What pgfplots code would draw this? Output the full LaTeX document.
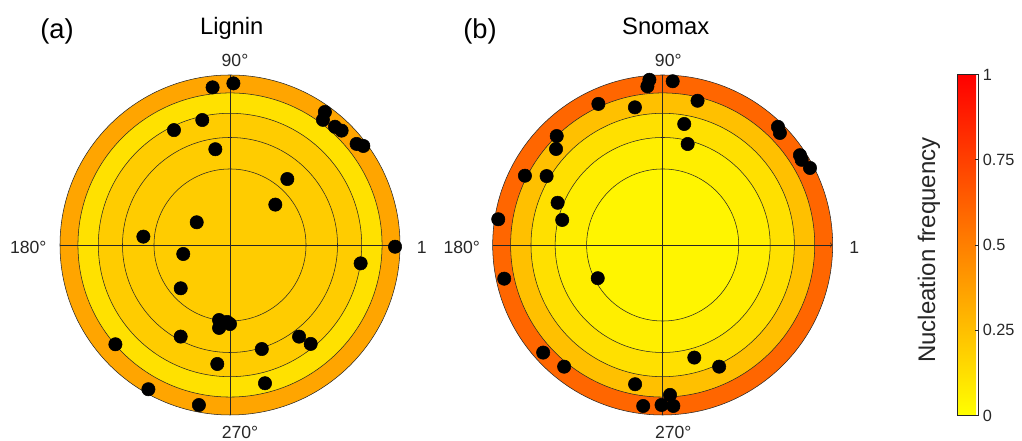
\documentclass[border=0pt]{standalone}
\usepackage{fontspec}
\setmainfont{Liberation Sans}
\usepackage{pgfplots}
\usepackage{pgfplotstable}
\pgfplotsset{compat=1.18}

\definecolor{LA}{HTML}{FFA500}
\definecolor{LB}{HTML}{FFE100}
\definecolor{LC}{HTML}{FFCC00}
\definecolor{RA}{HTML}{FF6600}
\definecolor{RB}{HTML}{FFC000}
\definecolor{RC}{HTML}{FFE000}
\definecolor{RD}{HTML}{FFEE00}
\definecolor{RE}{HTML}{FFF500}
\definecolor{gridc}{HTML}{262626}

\newcommand\fs[1]{\fontsize{#1}{#1}\selectfont}

% angle (deg), radius (fraction of outer circle)
\pgfplotstableread{
t r
96.3 0.933
88.8 0.951
54.5 0.961
53.4 0.917
48.4 0.930
45.7 0.940
38.6 0.953
36.6 0.977
102.5 0.753
116.0 0.752
98.7 0.570
49.0 0.514
41.7 0.357
145.7 0.237
174.5 0.512
359.4 0.971
190.9 0.280
352.0 0.776
221.3 0.386
261.7 0.446
267.8 0.453
262.5 0.492
270.0 0.465
241.7 0.612
307.0 0.675
309.2 0.751
220.9 0.892
287.0 0.640
263.9 0.704
284.2 0.839
240.5 0.975
259.0 0.959
}\lignin

\pgfplotstableread{
t r
94.6 0.975
95.5 0.938
86.5 0.965
114.5 0.912
101.4 0.826
76.4 0.873
79.9 0.723
76.1 0.612
45.7 0.971
43.7 0.954
33.2 0.965
31.5 0.959
27.6 0.978
134.2 0.894
138.0 0.844
153.3 0.907
149.3 0.794
158.1 0.666
166.0 0.609
171.1 0.979
192.0 0.953
207.1 0.429
222.0 0.946
231.0 0.921
285.7 0.688
294.9 0.789
258.8 0.835
272.8 0.883
263.1 0.954
269.6 0.941
273.8 0.949
}\snomax

\pgfplotsset{
  polstyle/.style={scale only axis, width=255pt, height=255pt,
    xmin=-1, xmax=1, ymin=-1, ymax=1, hide axis, clip=false, anchor=center},
  ptstyle/.style={only marks, mark=*, mark size=5pt, black, mark options={fill=black, draw=black}},
}
\tikzset{gl/.style={gridc, line width=0.4pt}}

\begin{document}
\begin{tikzpicture}
\path[use as bounding box] (0,0) rectangle (766.5pt,330.75pt);

% ---------- (a) Lignin ----------
\begin{axis}[polstyle, at={(172.5pt,147pt)}]
  \fill[LA] (axis cs:0,0) circle[radius=127.5pt];
  \fill[LB] (axis cs:0,0) circle[radius=114.04pt];
  \fill[LC] (axis cs:0,0) circle[radius=98.76pt];
  \draw[gl] (axis cs:0,0) circle[radius=127.5pt];
  \draw[gl] (axis cs:0,0) circle[radius=114.04pt];
  \draw[gl] (axis cs:0,0) circle[radius=98.76pt];
  \draw[gl] (axis cs:0,0) circle[radius=80.64pt];
  \draw[gl] (axis cs:0,0) circle[radius=57.02pt];
  \draw[gridc, line width=0.45pt, ->] (axis cs:-1,0) -- (axis cs:1,0);
  \draw[gridc, line width=0.45pt] (axis cs:0,-1) -- (axis cs:0,1);
  \addplot[ptstyle] table[x expr={\thisrow{r}*cos(\thisrow{t})}, y expr={\thisrow{r}*sin(\thisrow{t})}] {\lignin};
\end{axis}

% ---------- (b) Snomax ----------
\begin{axis}[polstyle, at={(497pt,147pt)},
  colormap={ry}{rgb=(1,1,0) rgb=(1,0,0)},
  point meta min=0, point meta max=1,
  colorbar,
  colorbar style={at={(parent axis.east)}, anchor=west, xshift=84.75pt,
    width=15.75pt, height=255.75pt, scale only axis,
    ytick={0,0.25,0.5,0.75,1}, yticklabels={0,0.25,0.5,0.75,1},
    yticklabel style={font=\fs{12.2}, text=gridc},
    ytick pos=right, tick align=inside, major tick length=2.5pt,
    tick style={gridc, line width=0.4pt},
    axis line style={gridc, line width=0.4pt}},
]
  \fill[RA] (axis cs:0,0) circle[radius=127.5pt];
  \fill[RB] (axis cs:0,0) circle[radius=114.04pt];
  \fill[RC] (axis cs:0,0) circle[radius=98.76pt];
  \fill[RD] (axis cs:0,0) circle[radius=80.64pt];
  \fill[RE] (axis cs:0,0) circle[radius=57.02pt];
  \draw[gl] (axis cs:0,0) circle[radius=127.5pt];
  \draw[gl] (axis cs:0,0) circle[radius=114.04pt];
  \draw[gl] (axis cs:0,0) circle[radius=98.76pt];
  \draw[gl] (axis cs:0,0) circle[radius=80.64pt];
  \draw[gl] (axis cs:0,0) circle[radius=57.02pt];
  \draw[gridc, line width=0.45pt, ->] (axis cs:-1,0) -- (axis cs:1,0);
  \draw[gridc, line width=0.45pt] (axis cs:0,-1) -- (axis cs:0,1);
  \addplot[ptstyle] table[x expr={\thisrow{r}*cos(\thisrow{t})}, y expr={\thisrow{r}*sin(\thisrow{t})}] {\snomax};
\end{axis}

% ---------- text ----------
\node[anchor=base, font=\fs{20.5}] at (42.75pt,301.5pt) {(a)};
\node[anchor=base, font=\fs{17.8}] at (173.8pt,304.5pt) {Lignin};
\node[anchor=base, font=\fs{20.5}] at (360pt,301.5pt) {(b)};
\node[anchor=base, font=\fs{17.8}] at (499.3pt,304.5pt) {Snomax};

\node[anchor=base, font=\fs{13.2}, text=gridc] at (176.25pt,280.75pt) {90°};
\node[anchor=base, font=\fs{13.2}, text=gridc] at (21.2pt,140.75pt) {180°};
\node[anchor=base, font=\fs{13.2}, text=gridc] at (180pt,1.5pt) {270°};
\node[anchor=base, font=\fs{13.2}, text=gridc] at (316.3pt,140.75pt) {1};

\node[anchor=base, font=\fs{13.2}, text=gridc] at (501.2pt,280.75pt) {90°};
\node[anchor=base, font=\fs{13.2}, text=gridc] at (346.3pt,140.75pt) {180°};
\node[anchor=base, font=\fs{13.2}, text=gridc] at (505pt,1.5pt) {270°};
\node[anchor=base, font=\fs{13.2}, text=gridc] at (640.7pt,140.75pt) {1};

\node[anchor=base, rotate=90, font=\fs{18}, text=gridc] at (701.25pt,143.25pt) {Nucleation frequency};
\end{tikzpicture}
\end{document}
